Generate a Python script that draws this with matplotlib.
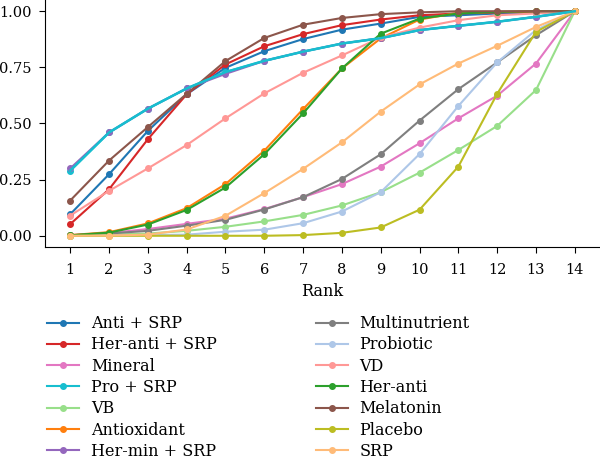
import numpy as np
import matplotlib.pyplot as plt

plt.rcParams['font.family'] = ['DejaVu Serif']

rank = np.arange(1, 15)

anti_srp     = [0.096, 0.274, 0.467, 0.630, 0.748, 0.822, 0.876, 0.918, 0.945, 0.975, 0.982, 0.990, 0.993, 1.0]
her_anti_srp = [0.052, 0.207, 0.430, 0.630, 0.763, 0.844, 0.898, 0.938, 0.963, 0.982, 0.990, 0.995, 0.998, 1.0]
mineral      = [0.003, 0.012, 0.030, 0.053, 0.076, 0.119, 0.172, 0.230, 0.308, 0.412, 0.523, 0.624, 0.767, 1.0]
pro_srp      = [0.290, 0.460, 0.566, 0.656, 0.729, 0.779, 0.820, 0.856, 0.880, 0.916, 0.935, 0.953, 0.975, 1.0]
vb           = [0.001, 0.005, 0.010, 0.022, 0.040, 0.064, 0.093, 0.135, 0.194, 0.281, 0.382, 0.489, 0.649, 1.0]
antioxidant  = [0.003, 0.016, 0.055, 0.123, 0.230, 0.379, 0.564, 0.745, 0.879, 0.963, 0.993, 0.997, 1.0, 1.0]
her_min_srp  = [0.300, 0.460, 0.566, 0.656, 0.721, 0.779, 0.820, 0.856, 0.880, 0.916, 0.935, 0.953, 0.975, 1.0]
multinutr    = [0.002, 0.010, 0.022, 0.045, 0.071, 0.117, 0.172, 0.253, 0.363, 0.513, 0.653, 0.772, 0.893, 1.0]
probiotic    = [0.000, 0.002, 0.003, 0.005, 0.018, 0.027, 0.056, 0.108, 0.194, 0.364, 0.578, 0.772, 0.916, 1.0]
vd           = [0.090, 0.200, 0.300, 0.404, 0.523, 0.634, 0.726, 0.803, 0.883, 0.927, 0.960, 0.982, 0.990, 1.0]
her_anti     = [0.002, 0.014, 0.050, 0.115, 0.215, 0.363, 0.545, 0.745, 0.900, 0.967, 0.990, 0.997, 1.0, 1.0]
melatonin    = [0.157, 0.335, 0.484, 0.632, 0.778, 0.881, 0.940, 0.970, 0.987, 0.995, 1.0, 1.0, 1.0, 1.0]
placebo      = [0.000, 0.000, 0.000, 0.000, 0.000, 0.000, 0.003, 0.013, 0.037, 0.116, 0.308, 0.632, 0.908, 1.0]
srp          = [0.000, 0.001, 0.005, 0.028, 0.089, 0.190, 0.298, 0.416, 0.553, 0.674, 0.767, 0.846, 0.930, 1.0]

names = ["Anti + SRP", "Her-anti + SRP", "Mineral", "Pro + SRP", "VB", "Antioxidant",
         "Her-min + SRP", "Multinutrient", "Probiotic", "VD", "Her-anti", "Melatonin",
         "Placebo", "SRP"]
series = [anti_srp, her_anti_srp, mineral, pro_srp, vb, antioxidant, her_min_srp,
          multinutr, probiotic, vd, her_anti, melatonin, placebo, srp]
colors = ["#1f77b4", "#d62728", "#e377c2", "#17becf", "#98df8a", "#ff7f0e", "#9467bd",
          "#7f7f7f", "#aec7e8", "#ff9896", "#2ca02c", "#8c564b", "#bcbd22", "#ffbb78"]

fig = plt.figure(figsize=(6, 4.58), dpi=100)
ax = fig.add_axes([0.075, 0.4607, 0.925, 0.5393])

for name, vals, c in zip(names, series, colors):
    ax.plot(rank, vals, color=c, marker='o', markersize=4, linewidth=1.5, label=name)

# cyan line sits over the purple one in the original
ax.plot(rank, pro_srp, color="#17becf", linewidth=1.8, zorder=2.5)

ax.set_xticks(rank)
ax.set_yticks([0, 0.25, 0.5, 0.75, 1.0])
ax.set_yticklabels(["0.00", "0.25", "0.50", "0.75", "1.00"])
ax.tick_params(labelsize=10.5, length=4.5)
ax.tick_params(axis='x', pad=7)
ax.tick_params(axis='y', pad=5)
ax.set_xlabel("Rank", fontsize=11.5)
ax.spines['top'].set_visible(False)
ax.spines['right'].set_visible(False)

handles, labels = ax.get_legend_handles_labels()
fig.legend(handles[:14], labels[:14], loc='upper left', bbox_to_anchor=(0.078, 0.312), ncol=2,
           frameon=False, fontsize=11.5, handlelength=2.0, handletextpad=0.75,
           labelspacing=0.27, columnspacing=6.2, borderpad=0, borderaxespad=0)

fig.savefig("out.png", dpi=100)
